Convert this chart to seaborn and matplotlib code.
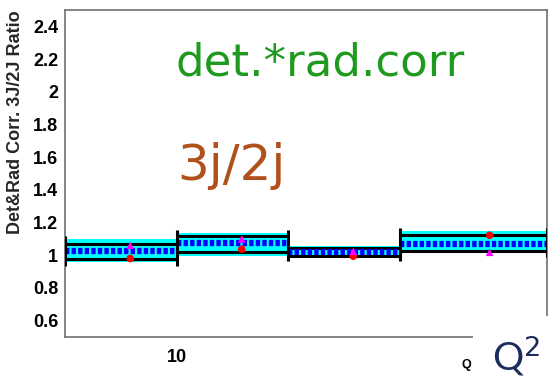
import numpy as np
import pandas as pd
import matplotlib
matplotlib.use("Agg")
import matplotlib.pyplot as plt
import seaborn as sns
from matplotlib.patches import Rectangle
from matplotlib.ticker import FixedLocator, MultipleLocator, NullFormatter

# ---- data ----
bin_edges = [5, 10, 20, 40, 100]
bin_centers = [7.5, 15, 30, 70]
central = [1.024, 1.073, 1.018, 1.067]
band_lo = [0.976, 1.018, 0.994, 1.024]
band_hi = [1.067, 1.116, 1.043, 1.122]
fill_lo = [0.957, 0.995, 0.982, 1.012]
fill_hi = [1.098, 1.135, 1.055, 1.146]
ratio_det = [0.980, 1.037, 0.994, 1.122]
ratio_rad = [1.060, 1.100, 1.024, 1.018]
y_ticks = [0.6, 0.8, 1.0, 1.2, 1.4, 1.6, 1.8, 2.0, 2.2, 2.4]
y_tick_labels = ["0.6", "0.8", "1", "1.2", "1.4", "1.6", "1.8", "2", "2.2", "2.4"]
x_minor = [6, 7, 8, 9, 20, 30, 40, 50, 60, 70, 80, 90]

sns.set_style("white")
plt.rcParams["font.family"] = ["Liberation Sans", "DejaVu Sans"]

fig = plt.figure(figsize=(5.48, 3.80), dpi=100)
ax = fig.add_axes([65 / 548, 43 / 380, (547 - 65) / 548, (337 - 10) / 380])

edges = np.array(bin_edges, dtype=float)
lo_f = np.append(fill_lo, fill_lo[-1])
hi_f = np.append(fill_hi, fill_hi[-1])
ax.fill_between(edges, lo_f, hi_f, step="post", color="#00ffff", lw=0, zorder=1)

ax.hlines(band_lo, edges[:-1], edges[1:], colors="black", lw=2.2, zorder=2)
ax.hlines(band_hi, edges[:-1], edges[1:], colors="black", lw=2.2, zorder=2)
ax.hlines(central, edges[:-1], edges[1:], colors="#0000ff", lw=4.5,
          linestyles=(0, (0.7, 0.35)), zorder=3)

# vertical edge segments spanning neighbouring bins
pad = 0.02
for i, e in enumerate(bin_edges):
    nb = [j for j in (i - 1, i) if 0 <= j < len(central)]
    ymin = min(fill_lo[j] for j in nb) - pad
    ymax = max(fill_hi[j] for j in nb) + pad
    ax.vlines(e, ymin, ymax, colors="black", lw=2.2, zorder=4)

df = pd.DataFrame({"q2": bin_centers * 2,
                   "ratio": ratio_det + ratio_rad,
                   "kind": ["det"] * 4 + ["rad"] * 4})
sns.scatterplot(data=df, x="q2", y="ratio", hue="kind", style="kind",
                palette={"det": "#ff0000", "rad": "#ff00ff"},
                markers={"det": "o", "rad": "^"}, s=30, linewidth=0,
                legend=False, ax=ax, zorder=5)

ax.set_xscale("log")
ax.set_xlim(5, 100)
ax.set_ylim(0.5, 2.5)
ax.xaxis.set_major_locator(FixedLocator([10]))
ax.xaxis.set_major_formatter(plt.FixedFormatter(["10"]))
ax.xaxis.set_minor_locator(FixedLocator(x_minor))
ax.xaxis.set_minor_formatter(NullFormatter())
ax.set_yticks(y_ticks)
ax.set_yticklabels(y_tick_labels)
ax.yaxis.set_minor_locator(MultipleLocator(0.05))

ax.tick_params(axis="both", which="both", direction="in", color="#707070",
               labelsize=13, labelcolor="black")
ax.tick_params(axis="y", which="major", length=15, width=1, pad=5)
ax.tick_params(axis="y", which="minor", length=8, width=1)
ax.tick_params(axis="x", which="major", length=10, width=1, pad=9)
ax.tick_params(axis="x", which="minor", length=5, width=1)
for lab in ax.get_xticklabels() + ax.get_yticklabels():
    lab.set_fontweight("bold")

for s in ax.spines.values():
    s.set_color("#707070")
    s.set_linewidth(1.2)
    s.set_visible(True)

ax.set_xlabel("")
ax.set_ylabel("Det&Rad Corr. 3J/2J Ratio", fontsize=13, fontweight="bold",
              loc="top", labelpad=6)

# overlay texts
fig.text(175 / 548, 1 - 75 / 380, "det.*rad.corr", color="#1e9a1e",
         fontsize=32.5, family=["DejaVu Sans"], ha="left", va="baseline")
fig.text(177 / 548, 1 - 180 / 380, "3j/2j", color="#b0501a",
         fontsize=36, family=["DejaVu Sans"], ha="left", va="baseline")
fig.text(462 / 548, 1 - 368 / 380, "Q", color="black", fontsize=9,
         fontweight="bold")

fig.patches.append(Rectangle((473 / 548, 0), 75 / 548, 64 / 380,
                             transform=fig.transFigure, facecolor="white",
                             edgecolor="none", zorder=10))
fig.text(492 / 548, 1 - 371 / 380, r"Q$^{2}$", color="#1c2b5c", fontsize=28,
         family=["Lato", "DejaVu Sans"], ha="left", va="baseline", zorder=11)

fig.savefig("out.png", dpi=100)
